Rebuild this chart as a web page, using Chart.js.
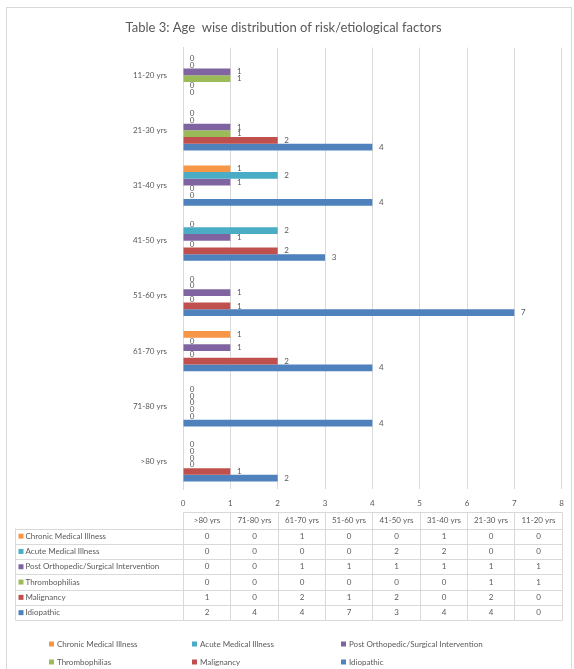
<!DOCTYPE html>
<html>
<head>
<meta charset="utf-8">
<script src="https://cdn.jsdelivr.net/npm/chart.js@4/dist/chart.umd.min.js"></script>
<style>
  html, body { margin: 0; padding: 0; background: #fff; }
  #wrap { position: relative; width: 574px; height: 669px; }
</style>
</head>
<body>
<div id="wrap"><canvas id="ageChart"></canvas></div>
<script>
// table order (left to right in the data table, bottom to top on the chart)
const ageGroups = [">80 yrs", "71-80 yrs", "61-70 yrs", "51-60 yrs", "41-50 yrs", "31-40 yrs", "21-30 yrs", "11-20 yrs"];
const seriesNames = ["Chronic Medical Illness", "Acute Medical Illness", "Post Orthopedic/Surgical Intervention", "Thrombophilias", "Malignancy", "Idiopathic"];
const chronicIllness = [0, 0, 1, 0, 0, 1, 0, 0];
const acuteIllness = [0, 0, 0, 0, 2, 2, 0, 0];
const postOrthoSurgical = [0, 0, 1, 1, 1, 1, 1, 1];
const thrombophilias = [0, 0, 0, 0, 0, 0, 1, 1];
const malignancy = [1, 0, 2, 1, 2, 0, 2, 0];
const idiopathic = [2, 4, 4, 7, 3, 4, 4, 0];
const xTicks = [0, 1, 2, 3, 4, 5, 6, 7, 8];

const seriesValues = [chronicIllness, acuteIllness, postOrthoSurgical, thrombophilias, malignancy, idiopathic];
const seriesColors = ["#F79646", "#4BACC6", "#8064A2", "#9BBB59", "#C0504D", "#4F81BD"];
const textGray = "#595959";
const lineGray = "#D9D9D9";
const fontName = "Lato, 'Open Sans', sans-serif";

// value labels at the end of each bar
const barLabels = {
    id: "barLabels",
    afterDatasetsDraw(chart) {
        const ctx = chart.ctx;
        ctx.save();
        ctx.font = "8px " + fontName;
        ctx.fillStyle = textGray;
        ctx.textAlign = "center";
        ctx.textBaseline = "middle";
        chart.data.datasets.forEach((ds, i) => {
            chart.getDatasetMeta(i).data.forEach((bar, j) => {
                ctx.fillText(String(ds.data[j]), bar.x + 9, bar.y);
            });
        });
        ctx.restore();
    }
};

// outer frame, data table and legend
const tableAndLegend = {
    id: "tableAndLegend",
    beforeDraw(chart) {
        const ctx = chart.ctx;
        ctx.save();
        ctx.strokeStyle = "#D9D9D9";
        ctx.lineWidth = 1;
        ctx.strokeRect(6.5, 7.5, 565, 700);
        ctx.restore();
    },
    afterDraw(chart) {
        const ctx = chart.ctx;
        const xs = chart.scales.x;
        const colX = xTicks.map((t) => Math.round(xs.getPixelForValue(t)) + 0.5);
        const tableLeft = 15.5;
        const headTop = 512.5;
        const headBottom = 528.5;
        const rowH = 15.3;
        const tableBottom = headBottom + rowH * seriesNames.length;

        ctx.save();
        ctx.strokeStyle = lineGray;
        ctx.lineWidth = 1;
        ctx.beginPath();
        // vertical lines
        colX.forEach((x) => {
            ctx.moveTo(x, headTop);
            ctx.lineTo(x, tableBottom);
        });
        ctx.moveTo(tableLeft, headBottom);
        ctx.lineTo(tableLeft, tableBottom);
        // horizontal lines
        ctx.moveTo(colX[0], headTop);
        ctx.lineTo(colX[colX.length - 1], headTop);
        for (let r = 0; r <= seriesNames.length; r++) {
            const y = Math.round(headBottom + rowH * r) + 0.5;
            ctx.moveTo(tableLeft, y);
            ctx.lineTo(colX[colX.length - 1], y);
        }
        ctx.stroke();

        ctx.fillStyle = textGray;
        ctx.font = "8px " + fontName;
        ctx.textBaseline = "middle";
        ctx.textAlign = "center";
        ageGroups.forEach((g, c) => {
            ctx.fillText(g, (colX[c] + colX[c + 1]) / 2, (headTop + headBottom) / 2);
        });
        seriesNames.forEach((name, r) => {
            const y = headBottom + rowH * r + rowH / 2;
            ctx.fillStyle = seriesColors[r];
            ctx.fillRect(tableLeft + 3, y - 2.5, 5, 5);
            ctx.fillStyle = textGray;
            ctx.textAlign = "left";
            ctx.fillText(name, tableLeft + 10, y);
            ctx.textAlign = "center";
            seriesValues[r].forEach((v, c) => {
                ctx.fillText(String(v), (colX[c] + colX[c + 1]) / 2, y);
            });
        });

        // legend, three columns by two rows
        const legendX = [49, 192, 341];
        const legendY = [644, 662];
        ctx.textAlign = "left";
        seriesNames.forEach((name, i) => {
            const x = legendX[i % 3];
            const y = legendY[Math.floor(i / 3)];
            ctx.fillStyle = seriesColors[i];
            ctx.fillRect(x, y - 2.5, 5, 5);
            ctx.fillStyle = textGray;
            ctx.fillText(name, x + 8, y);
        });
        ctx.restore();
    }
};

new Chart(document.getElementById("ageChart"), {
    type: "bar",
    data: {
        labels: ageGroups,
        datasets: seriesNames.map((name, i) => ({
            label: name,
            data: seriesValues[i],
            backgroundColor: seriesColors[i],
            borderWidth: 0,
            categoryPercentage: 0.73,
            barPercentage: 1.0
        }))
    },
    options: {
        indexAxis: "y",
        responsive: true,
        maintainAspectRatio: false,
        animation: false,
        layout: { padding: { left: 0, right: 7, top: 0, bottom: 156 } },
        plugins: {
            legend: { display: false },
            tooltip: { enabled: false },
            title: {
                display: true,
                text: "Table 3: Age  wise distribution of risk/etiological factors",
                color: textGray,
                font: { family: fontName, size: 13, weight: "normal" },
                padding: { top: 20, bottom: 12 }
            }
        },
        scales: {
            x: {
                min: 0,
                max: 8,
                afterBuildTicks(scale) {
                    scale.ticks = xTicks.map((v) => ({ value: v }));
                },
                afterFit(scale) { scale.height = 24; },
                grid: { color: lineGray, drawTicks: false },
                border: { display: false },
                ticks: { color: textGray, font: { family: fontName, size: 8 }, padding: 10 }
            },
            y: {
                reverse: true,
                afterFit(scale) { scale.width = 183; },
                grid: { display: false },
                border: { display: true, color: lineGray },
                ticks: { color: textGray, font: { family: fontName, size: 8 }, padding: 8 }
            }
        }
    },
    plugins: [barLabels, tableAndLegend]
});
</script>
</body>
</html>
